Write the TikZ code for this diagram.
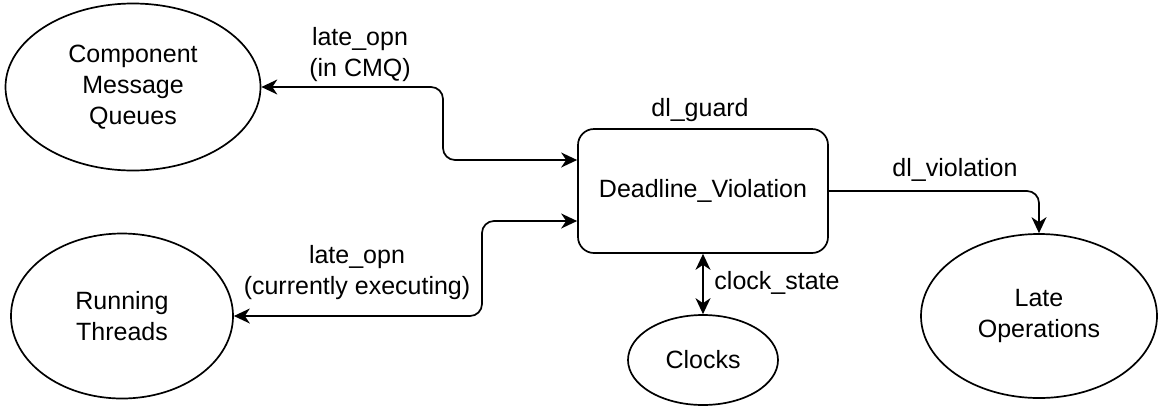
\documentclass[tikz,border=0pt]{standalone}
\usepackage{fontspec}
\setmainfont{Liberation Sans}
\usetikzlibrary{arrows.meta,shapes.geometric}
\begin{document}
\begin{tikzpicture}[
    x=1pt, y=-1pt,
    >={Stealth[length=16pt, width=15pt, inset=5pt]},
    every node/.style={font=\fontsize{25}{31}\selectfont},
    store/.style={draw, ellipse, line width=1.7pt, inner sep=0pt, align=center},
    proc/.style={draw, rounded corners=16pt, line width=1.7pt,
      minimum width=250pt, minimum height=124pt},
    flow/.style={line width=1.7pt, rounded corners=12pt},
    lbl/.style={align=center, inner sep=1pt}
  ]
  \useasboundingbox (0,0) rectangle (1161,413);

  % processes and stores
  \node[proc] (dlv) at (703,191) {Deadline\_Violation};
  \node[store, minimum width=255pt, minimum height=167pt] (cmq) at (133,87)
    {Component\\Message\\Queues};
  \node[store, minimum width=222pt, minimum height=165pt] (threads) at (122,316)
    {Running\\Threads};
  \node[store, minimum width=150pt, minimum height=90pt] (clocks) at (703,360)
    {Clocks};
  \node[store, minimum width=236pt, minimum height=164pt] (lateops) at (1039,316)
    {Late\\Operations};

  % flows
  \draw[flow, <->] (cmq.east) -| (443,160) -- ([yshift=31pt]dlv.west);
  \draw[flow, <->] (threads.east) -| (482,221) -- ([yshift=-30pt]dlv.west);
  \draw[flow, ->] (dlv.east) -| (lateops.north);
  \draw[flow, <->] (dlv.south) -- (clocks.north);

  % labels
  \node[lbl] (cmqlbl) at (360,55) {late\_opn\\(in CMQ)};
  \node[lbl] (thrlbl) at (357,273) {late\_opn\\(currently executing)};
  \node[lbl] (guard) at (700,110) {dl\_guard};
  \node[lbl] (viol) at (955,170) {dl\_violation};
  \node[lbl] (clk) at (777,283) {clock\_state};
\end{tikzpicture}
\end{document}
